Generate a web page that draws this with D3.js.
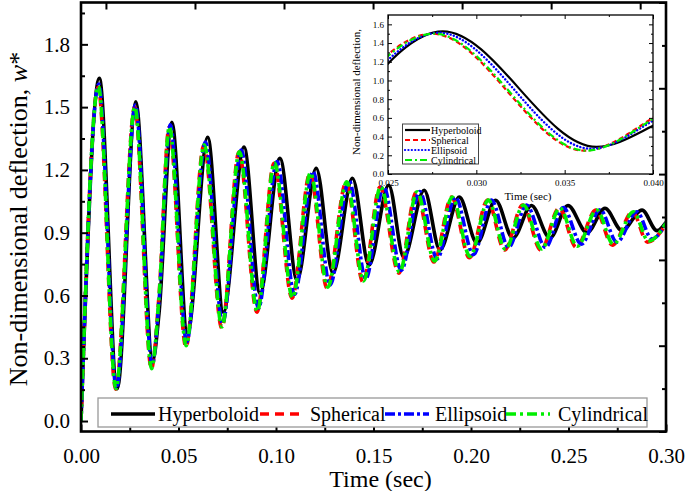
<!DOCTYPE html>
<html><head><meta charset="utf-8">
<script src="https://cdn.jsdelivr.net/npm/d3@7"></script>
<style>
body{margin:0;background:#fff}
text{font-family:"Liberation Serif","Times New Roman",serif;fill:#000}
</style>
</head><body>
<svg id="c" width="685" height="491"></svg>
<script>
// ---------------- data ----------------
const seriesNames = ["Hyperboloid", "Spherical", "Ellipsoid", "Cylindrical"];

// Hyperboloid (black, solid): extrema plus a few read points
const hypT = [0, 0.0094, 0.0186, 0.0281, 0.0368, 0.0400, 0.0466, 0.0546, 0.0650, 0.0730, 0.0836, 0.0918, 0.1020, 0.1108, 0.1206, 0.1292, 0.1392, 0.1477, 0.1578, 0.1655, 0.1760, 0.1841, 0.1940, 0.2031, 0.2126, 0.2215, 0.2310, 0.2405, 0.2497, 0.2595, 0.2687, 0.2774, 0.2877, 0.2954, 0.3];
const hypW = [0, 1.638, 0.155, 1.525, 0.29, 0.515, 1.428, 0.42, 1.356, 0.52, 1.309, 0.61, 1.256, 0.673, 1.208, 0.707, 1.160, 0.745, 1.127, 0.783, 1.103, 0.817, 1.070, 0.850, 1.055, 0.874, 1.030, 0.874, 1.030, 0.900, 1.017, 0.910, 1.008, 0.910, 0.950];

// Spherical (red, dashed)
const sphT = [0, 0.0088, 0.0178, 0.0275, 0.0361, 0.0400, 0.0452, 0.0538, 0.0630, 0.0722, 0.0810, 0.0902, 0.0990, 0.1082, 0.1174, 0.1262, 0.1360, 0.1446, 0.1533, 0.1630, 0.1720, 0.1810, 0.1900, 0.1992, 0.2085, 0.2172, 0.2265, 0.2358, 0.2452, 0.2540, 0.2640, 0.2725, 0.2828, 0.2905, 0.3];
const sphW = [0, 1.595, 0.152, 1.500, 0.250, 0.600, 1.404, 0.353, 1.318, 0.444, 1.285, 0.520, 1.232, 0.587, 1.184, 0.635, 1.141, 0.664, 1.118, 0.707, 1.094, 0.760, 1.070, 0.780, 1.056, 0.817, 1.032, 0.817, 1.018, 0.830, 1.008, 0.840, 0.999, 0.855, 0.940];

// Ellipsoid (blue, dash-dot)
const ellT = [0, 0.0091, 0.0182, 0.0279, 0.0365, 0.0400, 0.0458, 0.0542, 0.0638, 0.0726, 0.0822, 0.0910, 0.1005, 0.1095, 0.1190, 0.1277, 0.1375, 0.1460, 0.1552, 0.1642, 0.1737, 0.1826, 0.1920, 0.2012, 0.2105, 0.2192, 0.2285, 0.2382, 0.2473, 0.2566, 0.2662, 0.2748, 0.2850, 0.2928, 0.3];
const ellW = [0, 1.610, 0.155, 1.510, 0.270, 0.570, 1.415, 0.378, 1.333, 0.468, 1.295, 0.540, 1.240, 0.605, 1.192, 0.650, 1.148, 0.680, 1.120, 0.720, 1.097, 0.775, 1.070, 0.795, 1.056, 0.830, 1.032, 0.830, 1.020, 0.845, 1.010, 0.855, 1.000, 0.870, 0.945];

// Cylindrical (green, dash-dot)
const cylT = [0, 0.0089, 0.0179, 0.0276, 0.0362, 0.0400, 0.0453, 0.0539, 0.0632, 0.0723, 0.0812, 0.0904, 0.0992, 0.1085, 0.1177, 0.1265, 0.1363, 0.1449, 0.1537, 0.1633, 0.1724, 0.1813, 0.1904, 0.1995, 0.2089, 0.2176, 0.2269, 0.2362, 0.2456, 0.2545, 0.2645, 0.2730, 0.2833, 0.2910, 0.3];
const cylW = [0, 1.600, 0.155, 1.500, 0.250, 0.590, 1.405, 0.360, 1.320, 0.450, 1.287, 0.525, 1.234, 0.590, 1.186, 0.640, 1.143, 0.670, 1.120, 0.712, 1.095, 0.765, 1.070, 0.786, 1.056, 0.820, 1.032, 0.822, 1.018, 0.835, 1.008, 0.845, 1.000, 0.860, 0.945];

// axis ticks
const xTicks = [0, 0.05, 0.10, 0.15, 0.20, 0.25, 0.30];
const xTickLabels = ["0.00", "0.05", "0.10", "0.15", "0.20", "0.25", "0.30"];
const xMinorTicks = [0.025, 0.075, 0.125, 0.175, 0.225, 0.275];
const yTicks = [0, 0.3, 0.6, 0.9, 1.2, 1.5, 1.8];
const yTickLabels = ["0.0", "0.3", "0.6", "0.9", "1.2", "1.5", "1.8"];
const yMinorTicks = [0.15, 0.45, 0.75, 1.05, 1.35, 1.65, 1.95];
const rightTicks = [0, 1, 2, 3, 4, 5];
const rightMinorTicks = [0.5, 1.5, 2.5, 3.5, 4.5];
const topTicks = [0, 1, 2, 3, 4, 5, 6];

const insetXTicks = [0.025, 0.030, 0.035, 0.040];
const insetXTickLabels = ["0.025", "0.030", "0.035", "0.040"];
const insetXMinorTicks = [0.0275, 0.0325, 0.0375];
const insetYTicks = [0, 0.2, 0.4, 0.6, 0.8, 1.0, 1.2, 1.4, 1.6];
const insetYTickLabels = ["0.0", "0.2", "0.4", "0.6", "0.8", "1.0", "1.2", "1.4", "1.6"];
const insetYMinorTicks = [0.1, 0.3, 0.5, 0.7, 0.9, 1.1, 1.3, 1.5];

// ---------------- drawing ----------------
const svg = d3.select("#c");
const seriesT = [hypT, sphT, ellT, cylT];
const seriesW = [hypW, sphW, ellW, cylW];
const series = seriesNames.map((n, i) => ({name: n, pts: seriesT[i].map((t, j) => [t, seriesW[i][j]])}));

const colors = ["#000000", "#ff0000", "#0000ff", "#00ee00"];
const dashMain = [null, "9,6", "10,3,3,3", "10,4,3,4"];
const dashInset = [null, "5,3", "0.1,3.3", "7,3,2,3"];

const L = 81, R = 666, T = 2.5, B = 431.5;
const x = d3.scaleLinear().domain([0, 0.3]).range([L, R]);
const y = d3.scaleLinear().domain([-0.05, 2.0]).range([B, T]);
const yR = d3.scaleLinear().domain([0, 5]).range([B, T]);
const xTop = d3.scaleLinear().domain([-0.28, 6.29]).range([L, R]);

svg.append("clipPath").attr("id", "mclip").append("rect")
  .attr("x", L).attr("y", T).attr("width", R - L).attr("height", B - T);

const line = d3.line().x(d => x(d[0])).y(d => y(d[1])).curve(d3.curveMonotoneX);
const gLines = svg.append("g").attr("clip-path", "url(#mclip)");
series.forEach((s, i) => {
  gLines.append("path").attr("d", line(s.pts)).attr("fill", "none")
    .attr("stroke", colors[i]).attr("stroke-width", 3.6)
    .attr("stroke-dasharray", dashMain[i]);
});

function styleAxis(g) {
  g.select(".domain").remove();
  g.selectAll(".tick line").attr("stroke", "#000").attr("stroke-width", 2);
}
// main axes
svg.append("g").attr("transform", `translate(0,${B})`)
  .call(d3.axisBottom(x).tickValues(xTicks).tickSize(-7).tickPadding(17).tickFormat((d, i) => xTickLabels[i]))
  .call(styleAxis).selectAll("text").attr("font-size", 21).attr("font-family", '"Liberation Serif",serif');
svg.append("g").attr("transform", `translate(0,${B})`)
  .call(d3.axisBottom(x).tickValues(xMinorTicks).tickSize(-4).tickFormat(""))
  .call(styleAxis);
svg.append("g").attr("transform", `translate(${L},0)`)
  .call(d3.axisLeft(y).tickValues(yTicks).tickSize(-7).tickPadding(11).tickFormat((d, i) => yTickLabels[i]))
  .call(styleAxis).selectAll("text").attr("font-size", 21).attr("font-family", '"Liberation Serif",serif');
svg.append("g").attr("transform", `translate(${L},0)`)
  .call(d3.axisLeft(y).tickValues(yMinorTicks).tickSize(-4).tickFormat(""))
  .call(styleAxis);
svg.append("g").attr("transform", `translate(${R},0)`)
  .call(d3.axisRight(yR).tickValues(rightTicks).tickSize(-7).tickFormat(""))
  .call(styleAxis);
svg.append("g").attr("transform", `translate(${R},0)`)
  .call(d3.axisRight(yR).tickValues(rightMinorTicks).tickSize(-4).tickFormat(""))
  .call(styleAxis);
svg.append("g").attr("transform", `translate(0,${T})`)
  .call(d3.axisTop(xTop).tickValues(topTicks).tickSize(-7).tickFormat(""))
  .call(styleAxis);

svg.append("rect").attr("x", L).attr("y", T).attr("width", R - L).attr("height", B - T)
  .attr("fill", "none").attr("stroke", "#000").attr("stroke-width", 2.6);

// axis titles
svg.append("text").attr("x", (L + R) / 2 + 7).attr("y", 487).attr("text-anchor", "middle")
  .attr("font-size", 24).text("Time (sec)");
const yl = svg.append("text").attr("transform", `translate(27,219) rotate(-90)`)
  .attr("text-anchor", "middle").attr("font-size", 26);
yl.append("tspan").text("Non-dimensional deflection, ");
yl.append("tspan").attr("font-style", "italic").text("w");
yl.append("tspan").text("*");

// main legend
const lg = svg.append("g");
lg.append("rect").attr("x", 98).attr("y", 398).attr("width", 549).attr("height", 29)
  .attr("fill", "#fff").attr("stroke", "#999").attr("stroke-width", 1.3);
const legX = [111, 260, 385, 506];
const legTextX = [158, 310, 435, 558];
series.forEach((s, i) => {
  lg.append("line").attr("x1", legX[i]).attr("x2", legX[i] + 44).attr("y1", 414).attr("y2", 414)
    .attr("stroke", colors[i]).attr("stroke-width", 3.6).attr("stroke-dasharray", dashMain[i]);
  lg.append("text").attr("x", legTextX[i]).attr("y", 421).attr("font-size", 20).text(s.name);
});

// ---------------- inset ----------------
const iL = 388, iR = 653, iT = 15, iB = 174;
const xi = d3.scaleLinear().domain([0.025, 0.040]).range([iL, iR]);
const yi = d3.scaleLinear().domain([0, 1.7]).range([iB, iT]);
const gi = svg.append("g");
gi.append("rect").attr("x", iL).attr("y", iT).attr("width", iR - iL).attr("height", iB - iT).attr("fill", "#fff");
svg.append("clipPath").attr("id", "iclip").append("rect")
  .attr("x", iL).attr("y", iT).attr("width", iR - iL).attr("height", iB - iT);
const iline = d3.line().x(d => xi(d[0])).y(d => yi(d[1])).curve(d3.curveMonotoneX);
const gil = gi.append("g").attr("clip-path", "url(#iclip)");
series.forEach((s, i) => {
  gil.append("path").attr("d", iline(s.pts)).attr("fill", "none")
    .attr("stroke", colors[i]).attr("stroke-width", i === 2 ? 2.4 : 2.2)
    .attr("stroke-linecap", i === 2 ? "round" : "butt")
    .attr("stroke-dasharray", dashInset[i]);
});
function styleI(g) {
  g.select(".domain").remove();
  g.selectAll(".tick line").attr("stroke", "#000").attr("stroke-width", 1);
  g.selectAll("text").attr("font-size", 9).attr("font-family", '"Liberation Serif",serif');
}
gi.append("g").attr("transform", `translate(0,${iB})`)
  .call(d3.axisBottom(xi).tickValues(insetXTicks).tickSize(-4).tickPadding(6).tickFormat((d, i) => insetXTickLabels[i])).call(styleI);
gi.append("g").attr("transform", `translate(0,${iB})`)
  .call(d3.axisBottom(xi).tickValues(insetXMinorTicks).tickSize(-2).tickFormat("")).call(styleI);
gi.append("g").attr("transform", `translate(0,${iT})`)
  .call(d3.axisTop(xi).tickValues(insetXTicks).tickSize(-4).tickFormat("")).call(styleI);
gi.append("g").attr("transform", `translate(0,${iT})`)
  .call(d3.axisTop(xi).tickValues(insetXMinorTicks).tickSize(-2).tickFormat("")).call(styleI);
gi.append("g").attr("transform", `translate(${iL},0)`)
  .call(d3.axisLeft(yi).tickValues(insetYTicks).tickSize(-4).tickPadding(4).tickFormat((d, i) => insetYTickLabels[i])).call(styleI);
gi.append("g").attr("transform", `translate(${iL},0)`)
  .call(d3.axisLeft(yi).tickValues(insetYMinorTicks).tickSize(-2).tickFormat("")).call(styleI);
gi.append("g").attr("transform", `translate(${iR},0)`)
  .call(d3.axisRight(yi).tickValues(insetYTicks).tickSize(-4).tickFormat("")).call(styleI);
gi.append("g").attr("transform", `translate(${iR},0)`)
  .call(d3.axisRight(yi).tickValues(insetYMinorTicks).tickSize(-2).tickFormat("")).call(styleI);
gi.append("rect").attr("x", iL).attr("y", iT).attr("width", iR - iL).attr("height", iB - iT)
  .attr("fill", "none").attr("stroke", "#000").attr("stroke-width", 1.3);
gi.append("text").attr("x", 528).attr("y", 200).attr("text-anchor", "middle").attr("font-size", 11).text("Time (sec)");
gi.append("text").attr("transform", "translate(360,92) rotate(-90)").attr("text-anchor", "middle")
  .attr("font-size", 11).text("Non-dimensional deflection,");

// inset legend
gi.append("rect").attr("x", 402.5).attr("y", 124).attr("width", 76).attr("height", 40)
  .attr("fill", "#fff").attr("stroke", "#444").attr("stroke-width", 1);
series.forEach((s, i) => {
  const ly = 130 + i * 10;
  gi.append("line").attr("x1", 405).attr("x2", 430).attr("y1", ly).attr("y2", ly)
    .attr("stroke", colors[i]).attr("stroke-width", 2.2)
    .attr("stroke-linecap", i === 2 ? "round" : "butt")
    .attr("stroke-dasharray", dashInset[i]);
  gi.append("text").attr("x", 431).attr("y", ly + 3.5).attr("font-size", 10).text(s.name);
});
</script>
</body></html>
